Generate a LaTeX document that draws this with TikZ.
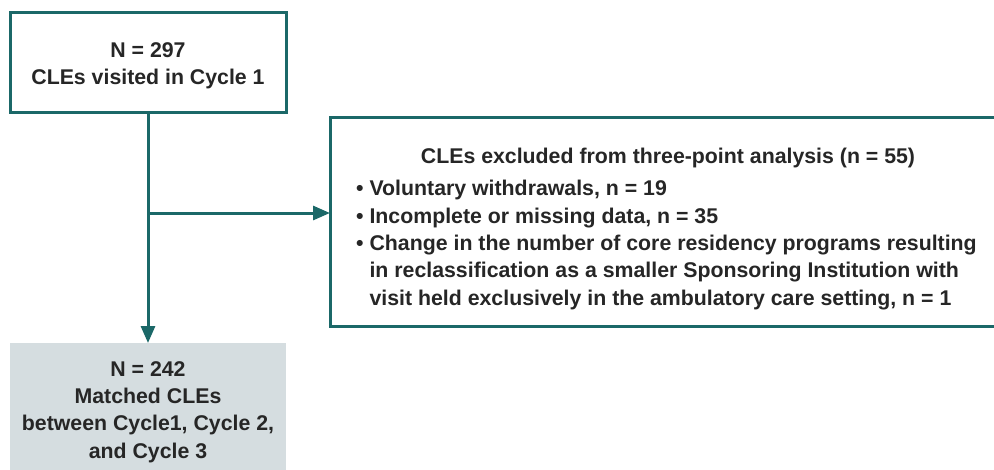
\documentclass[tikz,border=0pt]{standalone}
\usepackage{fontspec}
\setmainfont{Liberation Sans}
\usetikzlibrary{arrows.meta}
\definecolor{teal1}{RGB}{27,104,104}
\definecolor{boxgray}{RGB}{213,221,224}
\tikzset{
  flowbox/.style={draw=teal1, line width=3pt, fill=white},
  conn/.style={draw=teal1, line width=3pt, -{Triangle[length=17pt,width=14pt]}},
  txt/.style={font=\bfseries\fontsize{21.3}{27.4}\selectfont, text=black!85, inner sep=0pt}
}
\begin{document}
\begin{tikzpicture}[x=1pt,y=-1pt]
\useasboundingbox (0,0) rectangle (994,469);
\clip (0,0) rectangle (994,469);
% boxes
\path[flowbox] (10,12) rectangle (286,112);
\node[txt, align=center] (top) at (148,66) {N = 297\\CLEs visited in Cycle 1};
\path[flowbox] (330,117) rectangle (1010,326);
\node[txt] (hdr) at (668,158) {CLEs excluded from three-point analysis (n = 55)};
\node[txt, align=left, anchor=north west] (list) at (356,180)
{\textbullet\ Voluntary withdrawals, n = 19\\
\textbullet\ Incomplete or missing data, n = 35\\
\textbullet\ Change in the number of core residency programs resulting\\
\phantom{\textbullet\ }in reclassification as a smaller Sponsoring Institution with\\
\phantom{\textbullet\ }visit held exclusively in the ambulatory care setting, n = 1};
\fill[boxgray] (10,343) rectangle (286,475);
\node[txt, align=center] (bot) at (148,412) {N = 242\\Matched CLEs\\between Cycle1, Cycle 2,\\and Cycle 3};
% coordinates
\coordinate (ts) at (148,112);
\coordinate (vt) at (148,343);
\coordinate (br) at (148,213);
\coordinate (ex) at (330,213);
\draw[conn] (ts) -- (vt);
\draw[conn] (br) -- (ex);
\end{tikzpicture}
\end{document}
